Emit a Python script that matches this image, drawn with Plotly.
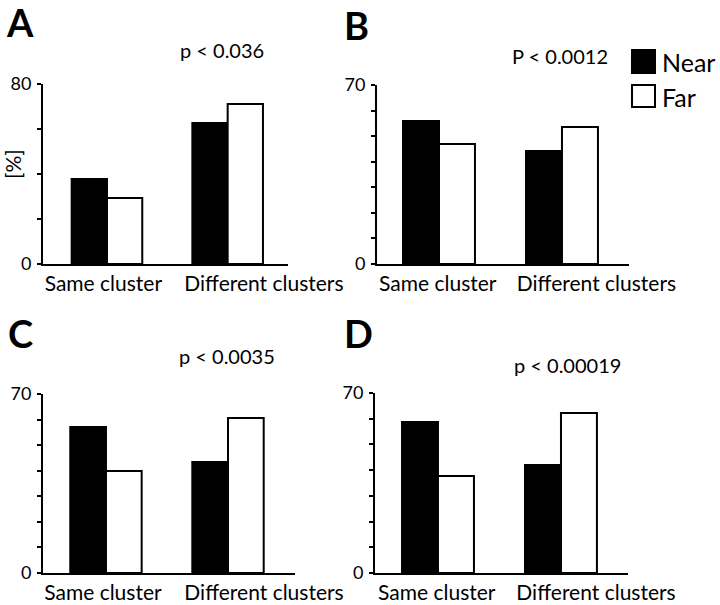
import plotly.graph_objects as go

W, H = 720, 605

categories = ["Same cluster", "Different clusters"]
series_names = ["Near", "Far"]

near_A = [37.8, 62.7]
far_A = [29.3, 71.1]
near_B = [55.9, 44.2]
far_B = [46.9, 53.6]
near_C = [57.1, 43.4]
far_C = [39.9, 60.6]
near_D = [58.7, 42.0]
far_D = [37.7, 62.2]

panel_letters = ["A", "B", "C", "D"]
p_labels = ["p < 0.036", "P < 0.0012", "p < 0.0035", "p < 0.00019"]
y_max = [80, 70, 70, 70]
y_step = [20, 10, 10, 10]

FONT = "Lato"


def px_x(x):
    return x / W


def px_y(y):
    return 1 - y / H


# panel layout in pixels: (x0, x1, ytop, ybottom, xrange, category label positions)
panels = [
    (43, 288, 84, 264, [-0.53, 1.50], [-0.03, 1.30]),
    (377, 629, 85, 264, [-0.504, 1.545], [-0.01, 1.28]),
    (43, 295, 394, 573, [-0.516, 1.549], [-0.025, 1.295]),
    (375, 628, 393, 573, [-0.512, 1.545], [-0.01, 1.285]),
]
data = [(near_A, far_A), (near_B, far_B), (near_C, far_C), (near_D, far_D)]

fig = go.Figure()
annotations = []
shapes = []

for i, ((x0, x1, yt, yb, xr, lab_pos), (near, far)) in enumerate(zip(panels, data)):
    n = "" if i == 0 else str(i + 1)
    xa, ya = "x" + n, "y" + n
    fig.add_trace(go.Bar(x=[0, 1], y=near, name=series_names[0], xaxis=xa, yaxis=ya,
                         marker=dict(color="black", line=dict(color="black", width=2)),
                         offsetgroup="near", showlegend=False))
    fig.add_trace(go.Bar(x=[0, 1], y=far, name=series_names[1], xaxis=xa, yaxis=ya,
                         marker=dict(color="white", line=dict(color="black", width=2)),
                         offsetgroup="far", showlegend=False))
    ym = y_max[i]
    tv = list(range(0, ym + 1, y_step[i]))
    tt = [str(v) if v in (0, ym) else "" for v in tv]
    fig.layout["xaxis" + n] = dict(
        domain=[px_x(x0), px_x(x1)], range=xr, anchor=ya, automargin=False,
        showline=True, linecolor="black", linewidth=2,
        showgrid=False, zeroline=False, ticks="", tickangle=0,
        tickvals=lab_pos, ticktext=categories,
        tickfont=dict(family=FONT, size=21, color="black"),
        ticklabelstandoff=0,
    )
    fig.layout["yaxis" + n] = dict(
        domain=[px_y(yb), px_y(yt)], range=[0, ym], anchor=xa, automargin=False,
        showline=True, linecolor="black", linewidth=2,
        showgrid=False, zeroline=False, ticks="outside", ticklen=4,
        tickwidth=2, tickcolor="black", tickangle=0,
        tickvals=tv, ticktext=tt,
        tickfont=dict(family=FONT, size=18, color="black"),
        ticklabelstandoff=2,
    )

# panel letters
letter_pos = [(20, 22), (356, 25), (20, 333), (358, 333)]
for L, (lx, ly) in zip(panel_letters, letter_pos):
    annotations.append(dict(x=px_x(lx), y=px_y(ly), xref="paper", yref="paper",
                            text="<b>" + L + "</b>", showarrow=False,
                            font=dict(family=FONT, size=38, color="black"),
                            xanchor="center", yanchor="middle"))

# p-values
p_pos = [(222, 50), (560, 56), (227, 356), (567, 365)]
for t, (tx, ty) in zip(p_labels, p_pos):
    annotations.append(dict(x=px_x(tx), y=px_y(ty), xref="paper", yref="paper",
                            text=t, showarrow=False,
                            font=dict(family=FONT, size=20, color="black"),
                            xanchor="center", yanchor="middle"))

# y label
annotations.append(dict(x=px_x(12), y=px_y(164), xref="paper", yref="paper",
                        text="[%]", textangle=-90, showarrow=False,
                        font=dict(family=FONT, size=21, color="black"),
                        xanchor="center", yanchor="middle"))

# legend
leg = [(series_names[0], "black", 50, 73), (series_names[1], "white", 85, 107)]
for name, col, y0, y1 in leg:
    shapes.append(dict(type="rect", xref="paper", yref="paper",
                       x0=px_x(632), x1=px_x(655), y0=px_y(y1), y1=px_y(y0),
                       fillcolor=col, line=dict(color="black", width=2)))
    annotations.append(dict(x=px_x(660), y=px_y((y0 + y1) / 2 + 1), xref="paper", yref="paper",
                            text=name, showarrow=False,
                            font=dict(family=FONT, size=25, color="black"),
                            xanchor="left", yanchor="middle"))

fig.update_layout(
    width=W, height=H, margin=dict(l=0, r=0, t=0, b=0, autoexpand=False),
    paper_bgcolor="white", plot_bgcolor="white",
    barmode="group", bargap=0.415, bargroupgap=0,
    annotations=annotations, shapes=shapes, showlegend=False,
)

fig.write_html("out.html", config={"displayModeBar": False},
               post_script="document.body.style.margin='0';document.body.style.overflow='hidden';")
